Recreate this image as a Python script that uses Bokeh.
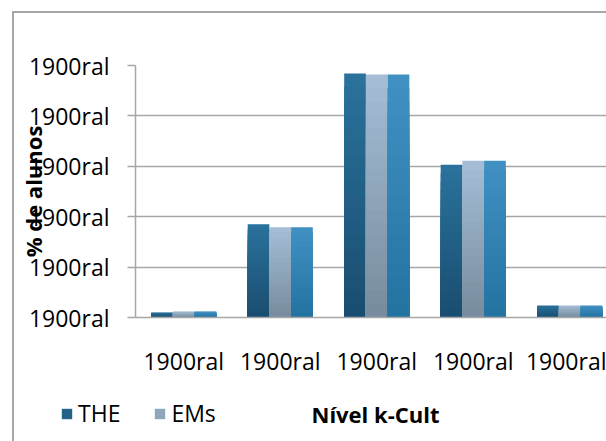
import numpy as np
from bokeh.plotting import figure
from bokeh.layouts import column
from bokeh.models import Range1d, FixedTicker, Legend, LegendItem, Label
from bokeh.embed import file_html
from bokeh.resources import INLINE

# ---- data ----
categories = ["1900ral", "1900ral", "1900ral", "1900ral", "1900ral"]
y_ticks = [0, 10, 20, 30, 40, 50]
y_tick_labels = ["1900ral", "1900ral", "1900ral", "1900ral", "1900ral", "1900ral"]
series_names = ["THE", "EMs", ""]
the_vals = [1.0, 18.5, 48.4, 30.3, 2.4]
ems_vals = [1.2, 17.9, 48.2, 31.1, 2.4]
third_vals = [1.2, 17.9, 48.2, 31.1, 2.4]
x_title = "Nível k-Cult"
y_title = "% de alunos"

# ---- styles ----
FONT = "Open Sans"
GRID = "#a6a6a6"
grads = [("#2a719b", "#1a4e71"), ("#a4bdd4", "#778c9f"), ("#4090c2", "#2474a2")]
swatch = ["#236288", "#8fa7bd"]
bar_w = 0.225
offsets = [-bar_w, 0.0, bar_w]

W = 592
p = figure(width=W, height=366, output_backend="svg", toolbar_location=None,
           x_range=Range1d(0, 471 / 96.5), y_range=Range1d(0, 50),
           min_border_left=121, min_border_right=0, min_border_top=52,
           min_border_bottom=60)
p.outline_line_color = None
p.background_fill_color = "white"
p.border_fill_color = "white"

xs = np.arange(len(categories)) + 0.5


def hex2rgb(h):
    return np.array([int(h[i:i + 2], 16) for i in (1, 3, 5)], dtype=float)


def rgb2hex(c):
    return "#%02x%02x%02x" % tuple(int(round(v)) for v in c)


N = 18
for s, vals in enumerate([the_vals, ems_vals, third_vals]):
    top_c, bot_c = hex2rgb(grads[s][0]), hex2rgb(grads[s][1])
    v = np.array(vals)
    for i in range(N):
        t = i / (N - 1)
        col = rgb2hex(top_c * (1 - t) + bot_c * t)
        frac = 1 - i / N
        p.quad(left=xs + offsets[s] - bar_w / 2, right=xs + offsets[s] + bar_w / 2,
               bottom=0, top=v * frac, fill_color=col, line_color=None)

# axes
p.xaxis.ticker = FixedTicker(ticks=list(xs))
p.xaxis.major_label_overrides = {float(x): c for x, c in zip(xs, categories)}
p.xaxis.major_tick_out = 0
p.xaxis.major_tick_in = 0
p.xaxis.minor_tick_line_color = None
p.xaxis.axis_line_color = GRID
p.xaxis.axis_line_width = 1.5
p.xaxis.major_label_text_font = FONT
p.xaxis.major_label_text_font_size = "23px"
p.xaxis.major_label_text_color = "black"
p.xaxis.major_label_standoff = 27

p.yaxis.ticker = FixedTicker(ticks=y_ticks)
p.yaxis.major_label_overrides = {t: l for t, l in zip(y_ticks, y_tick_labels)}
p.yaxis.major_tick_out = 8
p.yaxis.major_tick_in = 0
p.yaxis.minor_tick_line_color = None
p.yaxis.major_tick_line_color = GRID
p.yaxis.major_tick_line_width = 1.5
p.yaxis.axis_line_color = GRID
p.yaxis.axis_line_width = 1.5
p.yaxis.major_label_text_font = FONT
p.yaxis.major_label_text_font_size = "23px"
p.yaxis.major_label_text_color = "black"
p.yaxis.major_label_standoff = 18
p.yaxis.axis_label = y_title
p.yaxis.axis_label_text_font = FONT
p.yaxis.axis_label_text_font_size = "22px"
p.yaxis.axis_label_text_font_style = "bold"
p.yaxis.axis_label_text_color = "black"
p.yaxis.axis_label_standoff = -22

p.xgrid.grid_line_color = None
p.ygrid.grid_line_color = GRID
p.ygrid.grid_line_width = 1.5

# ---- bottom strip: legend + x-axis title ----
p2 = figure(width=W, height=62, output_backend="svg", toolbar_location=None,
            x_range=Range1d(0, W), y_range=Range1d(0, 62),
            x_axis_location=None, y_axis_location=None,
            min_border_left=0, min_border_right=0, min_border_top=0,
            min_border_bottom=0)
if "frame_align" in p2.properties():
    p2.frame_align = False
p2.outline_line_color = None
p2.grid.grid_line_color = None
p2.background_fill_color = "white"
p2.border_fill_color = "white"
# zero-size placeholder glyphs, used only to give the legend its swatches
r_the = p2.quad(left=[0], right=[0], top=[0], bottom=[0], fill_color=swatch[0], line_color=None)
r_ems = p2.quad(left=[0], right=[0], top=[0], bottom=[0], fill_color=swatch[1], line_color=None)
legend = Legend(items=[LegendItem(label=series_names[0], renderers=[r_the]),
                       LegendItem(label=series_names[1], renderers=[r_ems])],
                orientation="horizontal", location=(46, 12),
                glyph_width=13, glyph_height=13, label_standoff=5, spacing=33,
                padding=0, margin=0, border_line_color=None,
                background_fill_alpha=0,
                label_text_font=FONT, label_text_font_size="23px",
                label_text_color="black")
p2.add_layout(legend)
p2.add_layout(Label(x=361, y=28, text=x_title, text_align="center",
                    text_baseline="middle", text_font=FONT, text_font_size="22px",
                    text_font_style="bold", text_color="black"))

layout = column(p, p2, spacing=0)
layout.margin = (11, 0, 0, 12)
layout.styles = {"border-left": "2px solid #a6a6a6", "border-top": "2px solid #a6a6a6"}

open("out.html", "w").write(file_html(layout, INLINE))
